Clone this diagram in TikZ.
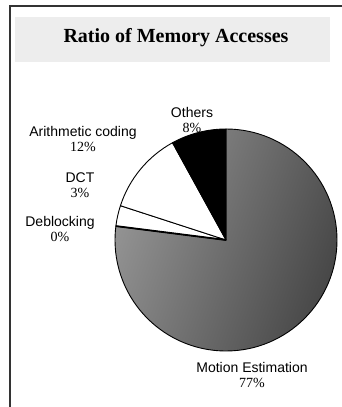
\documentclass[tikz,border=0pt]{standalone}
\usepackage{fontspec}
\setmainfont{Liberation Serif}
\setsansfont{Liberation Sans}
\begin{document}
\begin{tikzpicture}[x=1pt,y=1pt,
  lbl/.style={align=center, font=\sffamily\fontsize{14}{15.5}\selectfont, inner sep=0pt},
  slice/.style={draw=black, line width=0.9pt, line join=round}]
\useasboundingbox (0,0) rectangle (342,407);
% frame
\draw[line width=1.3pt, black!80] (10,0) -- (10,401) -- (342,401);
% title band
\fill[black!7] (15,345) rectangle (330,390);
\node[font=\bfseries\fontsize{20}{22}\selectfont, inner sep=0pt] (title) at (176,369) {Ratio of Memory Accesses};
% pie
\coordinate (c) at (226,167);
\begin{scope}
  \clip (c) -- ++(90:111) arc[start angle=90, end angle=-187.2, radius=111] -- cycle;
  \shade[left color=black!42, right color=black!72, shading angle=70] (115,56) rectangle (337,278);
\end{scope}
\draw[slice] (c) -- ++(90:111) arc[start angle=90, end angle=-187.2, radius=111] -- cycle;
\draw[slice, fill=white] (c) -- ++(172.8:111) arc[start angle=172.8, end angle=162, radius=111] -- cycle;
\draw[slice, fill=white] (c) -- ++(162:111) arc[start angle=162, end angle=118.8, radius=111] -- cycle;
\draw[slice, fill=black] (c) -- ++(118.8:111) arc[start angle=118.8, end angle=90, radius=111] -- cycle;
\draw[line width=1.8pt] (c) -- ++(172.8:111);
% labels
\node[lbl] (oth) at (192,287) {Others\\{\rmfamily 8\%}};
\node[lbl] (ari) at (83,268) {Arithmetic coding\\{\rmfamily 12\%}};
\node[lbl] (dct) at (80,222) {DCT\\{\rmfamily 3\%}};
\node[lbl] (deb) at (60,178) {Deblocking\\{\rmfamily 0\%}};
\node[lbl] (me) at (252,32) {Motion Estimation\\{\rmfamily 77\%}};
\end{tikzpicture}
\end{document}
